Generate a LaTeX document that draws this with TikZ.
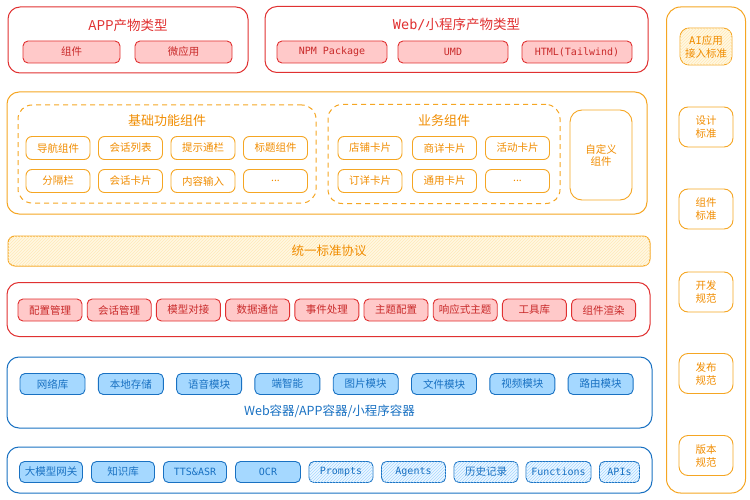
\documentclass[tikz,border=0pt]{standalone}
\usepackage{fontspec}
\setmainfont{Noto Sans CJK SC}
\newfontfamily\codefont{DejaVu Sans Mono}
\usetikzlibrary{patterns}
\definecolor{redline}{HTML}{E03131}
\definecolor{redfill}{HTML}{FFC9C9}
\definecolor{redtext}{HTML}{C92A2A}
\definecolor{orline}{HTML}{F5A623}
\definecolor{ortext}{HTML}{F08C00}
\definecolor{orfill}{HTML}{FFF8E2}
\definecolor{orhatch}{HTML}{FFE9B8}
\definecolor{blline}{HTML}{1971C2}
\definecolor{blfill}{HTML}{A5D8FF}
\definecolor{bllight}{HTML}{EEF7FF}
\begin{document}
\begin{tikzpicture}[x=1pt,y=-1pt]
    \tikzstyle{redbox} = [draw=redline, line width=1pt, rounded corners=12pt, inner sep=0pt]
    \tikzstyle{redtitle} = [text=redline, font=\fontsize{13.5}{15}\selectfont]
    \tikzstyle{reditem} = [draw=redline, fill=redfill, line width=0.9pt, rounded corners=5pt, inner sep=0pt, minimum height=22pt, text=redtext, font=\fontsize{10.5}{12}\selectfont]
    \tikzstyle{orbox} = [draw=orline, line width=1pt, rounded corners=12pt, inner sep=0pt]
    \tikzstyle{orgroup} = [draw=orline, line width=1pt, dashed, dash pattern=on 5pt off 4pt, rounded corners=14pt, inner sep=0pt]
    \tikzstyle{ortitle} = [text=ortext, font=\fontsize{13}{15}\selectfont]
    \tikzstyle{oritem} = [draw=orline, line width=0.9pt, rounded corners=6pt, inner sep=0pt, minimum width=64pt, minimum height=23pt, text=ortext, font=\fontsize{10.5}{12}\selectfont]
    \tikzstyle{orrule} = [draw=orline, line width=0.9pt, rounded corners=9pt, inner sep=0pt, minimum width=54pt, minimum height=40pt, align=center, text=ortext, font=\fontsize{10.5}{13}\selectfont]
    \tikzstyle{orhatched} = [fill=orfill, postaction={pattern=north east lines, pattern color=orhatch}]
    \tikzstyle{bluebox} = [draw=blline, line width=1pt, rounded corners=12pt, inner sep=0pt]
    \tikzstyle{blueitem} = [draw=blline, fill=blfill, line width=0.9pt, rounded corners=5pt, inner sep=0pt, minimum height=21pt, text=blline, font=\fontsize{10.5}{12}\selectfont]
    \tikzstyle{bluehatch} = [blueitem, fill=bllight, postaction={pattern=north east lines, pattern color=blfill}]
    \tikzstyle{codetext} = [font=\codefont\fontsize{10}{12}\selectfont]
    \useasboundingbox (0,0) rectangle (750,500);
    % product types
    \node[redbox, minimum width=240pt, minimum height=66pt] (appbox) at (128,40) {};
    \node[redtitle] (apptitle) at (128,25) {APP产物类型};
    \node[reditem, minimum width=97pt] (comp) at (71.5,52) {组件};
    \node[reditem, minimum width=97pt] (micro) at (183.5,52) {微应用};
    \node[redbox, minimum width=383pt, minimum height=66pt] (webbox) at (456.5,39.5) {};
    \node[redtitle] (webtitle) at (456.5,24) {{\codefont Web/}小程序产物类型};
    \node[reditem, codetext, minimum width=110pt] (npm) at (332,52) {NPM Package};
    \node[reditem, codetext, minimum width=110pt] (umd) at (453,52) {UMD};
    \node[reditem, codetext, minimum width=110pt] (html) at (577,52) {HTML(Tailwind)};
    % components
    \node[orbox, minimum width=640pt, minimum height=122pt] (compbox) at (327,153) {};
    \node[orgroup, minimum width=298pt, minimum height=98pt] (basegroup) at (167,154) {};
    \node[ortitle] (basetitle) at (167,121) {基础功能组件};
    \node[oritem] (nav) at (58,148) {导航组件};
    \node[oritem] (chatlist) at (130.5,148) {会话列表};
    \node[oritem] (notice) at (203,148) {提示通栏};
    \node[oritem] (header) at (275.5,148) {标题组件};
    \node[oritem] (divider) at (58,181) {分隔栏};
    \node[oritem] (chatcard) at (130.5,181) {会话卡片};
    \node[oritem] (input) at (203,181) {内容输入};
    \node[oritem] (basemore) at (275.5,181) {...};
    \node[orgroup, minimum width=232pt, minimum height=99pt] (bizgroup) at (444,154) {};
    \node[ortitle] (biztitle) at (444,121) {业务组件};
    \node[oritem] (shop) at (370,148) {店铺卡片};
    \node[oritem] (goods) at (444.5,148) {商详卡片};
    \node[oritem] (event) at (517.5,148) {活动卡片};
    \node[oritem] (order) at (370,181) {订详卡片};
    \node[oritem] (common) at (444.5,181) {通用卡片};
    \node[oritem] (bizmore) at (517.5,181) {...};
    \node[oritem, minimum width=62pt, minimum height=90pt, rounded corners=12pt, align=center] (custom) at (601,155) {自定义\\组件};
    % protocol
    \node[orbox, orhatched, rounded corners=7pt, minimum width=642pt, minimum height=30pt, text=ortext, font=\fontsize{12.5}{14}\selectfont] (protocol) at (329,251) {统一标准协议};
    % core
    \node[redbox, minimum width=643pt, minimum height=54pt] (corebox) at (328.5,309.5) {};
    \node[reditem, minimum width=64pt] (config) at (50,310) {配置管理};
    \node[reditem, minimum width=64pt] (session) at (119.2,310) {会话管理};
    \node[reditem, minimum width=64pt] (model) at (188.4,310) {模型对接};
    \node[reditem, minimum width=64pt] (datacom) at (257.6,310) {数据通信};
    \node[reditem, minimum width=64pt] (events) at (326.8,310) {事件处理};
    \node[reditem, minimum width=64pt] (theme) at (396,310) {主题配置};
    \node[reditem, minimum width=64pt] (responsive) at (465.2,310) {响应式主题};
    \node[reditem, minimum width=64pt] (tools) at (534.4,310) {工具库};
    \node[reditem, minimum width=64pt] (render) at (603.6,310) {组件渲染};
    % container
    \node[bluebox, minimum width=645pt, minimum height=71pt] (hostbox) at (329.5,392.5) {};
    \node[blueitem, minimum width=65pt] (network) at (52.5,384) {网络库};
    \node[blueitem, minimum width=65pt] (storage) at (130.8,384) {本地存储};
    \node[blueitem, minimum width=65pt] (voice) at (209.1,384) {语音模块};
    \node[blueitem, minimum width=65pt] (edge) at (287.4,384) {端智能};
    \node[blueitem, minimum width=65pt] (image) at (365.7,384) {图片模块};
    \node[blueitem, minimum width=65pt] (file) at (444,384) {文件模块};
    \node[blueitem, minimum width=65pt] (video) at (522.3,384) {视频模块};
    \node[blueitem, minimum width=65pt] (router) at (600.6,384) {路由模块};
    \node[text=blline, font=\fontsize{12.5}{14}\selectfont] (hosttitle) at (329.5,411) {Web容器/APP容器/小程序容器};
    % model services
    \node[bluebox, minimum width=645pt, minimum height=46pt] (aibox) at (329.5,470) {};
    \node[blueitem, minimum width=63pt] (gateway) at (51,472) {大模型网关};
    \node[blueitem, minimum width=63pt] (knowledge) at (123,472) {知识库};
    \node[blueitem, codetext, minimum width=63pt] (tts) at (195,472) {TTS\&ASR};
    \node[blueitem, codetext, minimum width=65pt] (ocr) at (268,472) {OCR};
    \node[bluehatch, codetext, minimum width=64pt] (prompts) at (341,472) {Prompts};
    \node[bluehatch, codetext, minimum width=64pt] (agents) at (413.5,472) {Agents};
    \node[bluehatch, minimum width=64pt] (history) at (486,472) {历史记录};
    \node[bluehatch, codetext, minimum width=65pt] (functions) at (558.5,472) {Functions};
    \node[bluehatch, codetext, minimum width=40pt] (apis) at (619.5,472) {APIs};
    % standards
    \node[orbox, rounded corners=14pt, minimum width=79pt, minimum height=486pt] (rulebox) at (706,250) {};
    \node[orrule, orhatched, minimum width=52pt, minimum height=37pt] (airule) at (706,46.5) {{\codefont AI}应用\\接入标准};
    \node[orrule] (designrule) at (706,127) {设计\\标准};
    \node[orrule] (comprule) at (706,209) {组件\\标准};
    \node[orrule] (devrule) at (706,292) {开发\\规范};
    \node[orrule] (releaserule) at (706,373.5) {发布\\规范};
    \node[orrule] (versionrule) at (706,455.5) {版本\\规范};
\end{tikzpicture}
\end{document}
